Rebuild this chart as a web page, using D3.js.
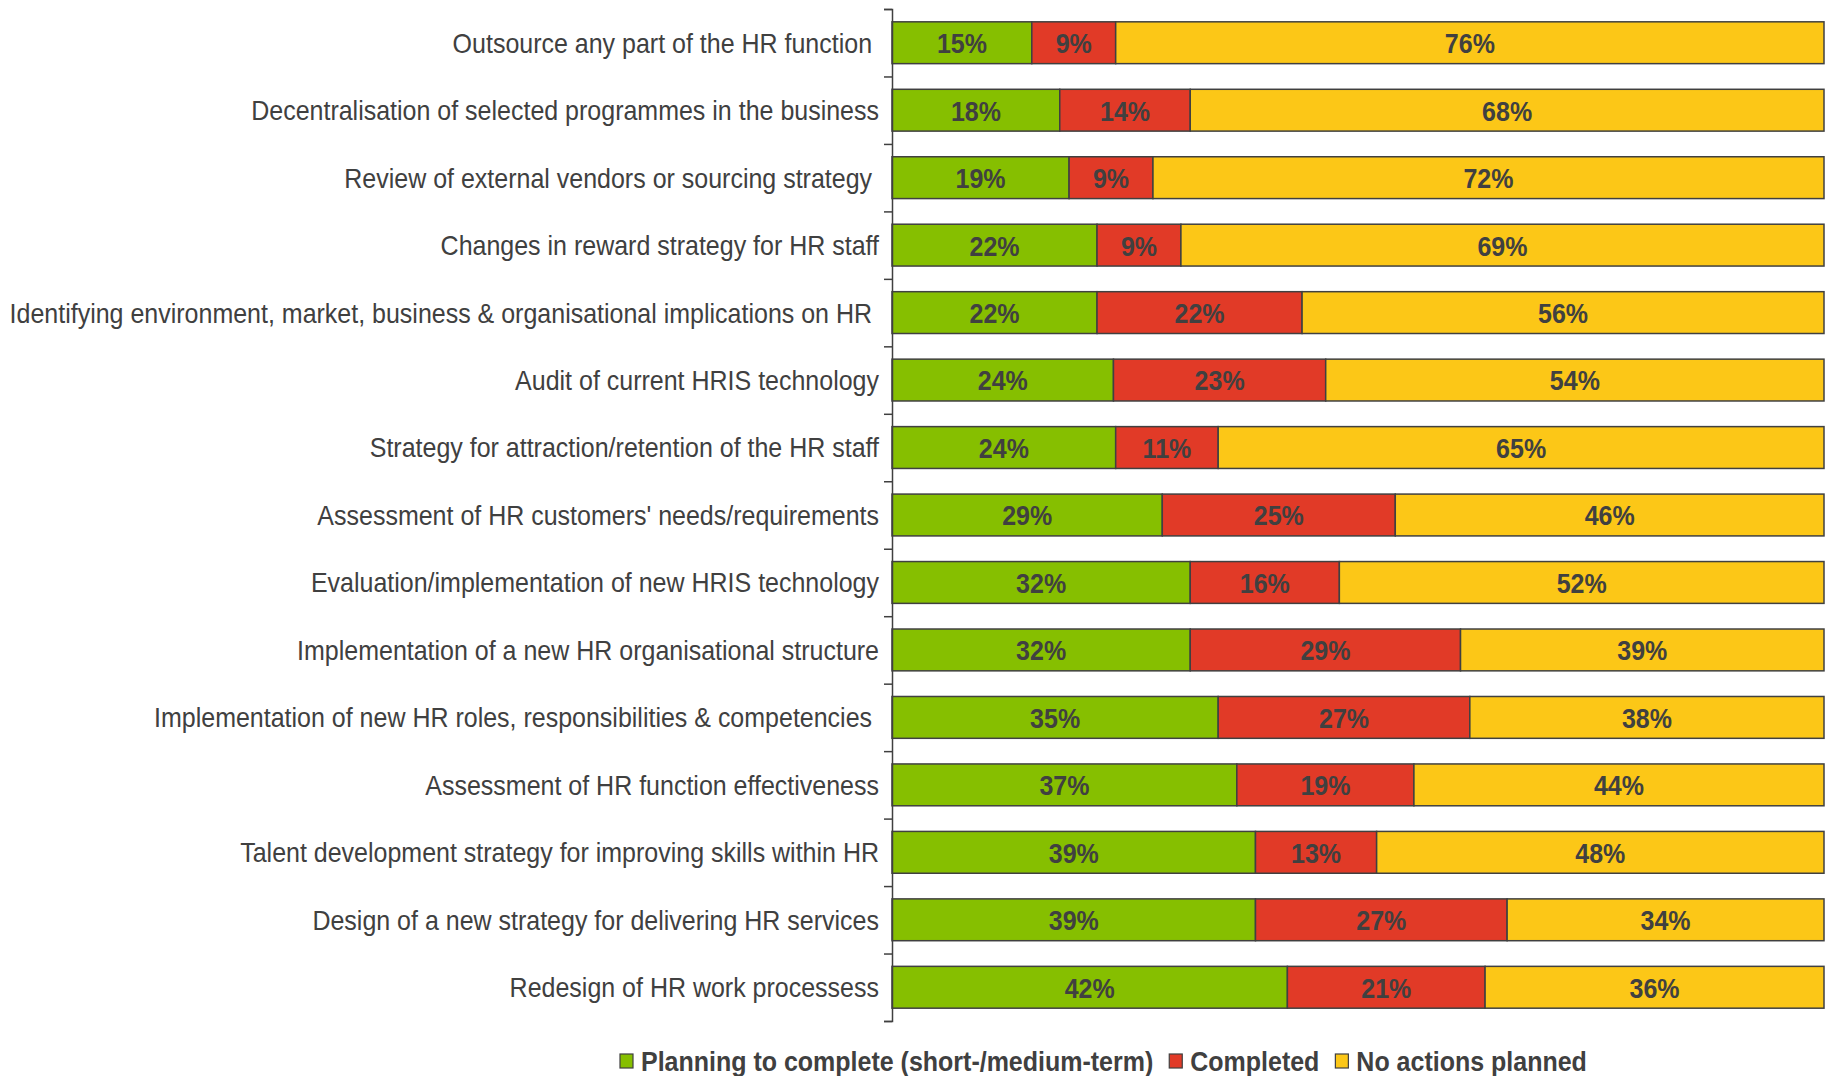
<!DOCTYPE html>
<html>
<head>
<meta charset="utf-8">
<script src="https://cdn.jsdelivr.net/npm/d3@7"></script>
<style>
  html, body { margin: 0; padding: 0; background: #fff; }
  svg { display: block; font-family: "Liberation Sans", Arial, sans-serif; }
  text { white-space: pre; }
</style>
</head>
<body>
<svg id="chart" width="1825" height="1076"></svg>
<script>
;(function(d3) {
    'use strict';

    // categories, top to bottom (some keep the trailing space of the source)
    var categories = [
        'Outsource any part of the HR function ',
        'Decentralisation of selected programmes in the business',
        'Review of external vendors or sourcing strategy ',
        'Changes in reward strategy for HR staff',
        'Identifying environment, market, business & organisational implications on HR ',
        'Audit of current HRIS technology',
        'Strategy for attraction/retention of the HR staff',
        "Assessment of HR customers' needs/requirements",
        'Evaluation/implementation of new HRIS technology',
        'Implementation of a new HR organisational structure',
        'Implementation of new HR roles, responsibilities & competencies ',
        'Assessment of HR function effectiveness',
        'Talent development strategy for improving skills within HR',
        'Design of a new strategy for delivering HR services',
        'Redesign of HR work processess'
    ];

    var planning  = [15, 18, 19, 22, 22, 24, 24, 29, 32, 32, 35, 37, 39, 39, 42];
    var completed = [ 9, 14,  9,  9, 22, 23, 11, 25, 16, 29, 27, 19, 13, 27, 21];
    var noAction  = [76, 68, 72, 69, 56, 54, 65, 46, 52, 39, 38, 44, 48, 34, 36];

    var seriesNames = ['Planning to complete (short-/medium-term)', 'Completed', 'No actions planned'];
    var seriesKeys = ['planning', 'completed', 'noAction'];
    var colors = ['#86bf00', '#e13a27', '#fcc717'];

    var rows = categories.map(function(c, i) {
        return { cat: c, planning: planning[i], completed: completed[i], noAction: noAction[i] };
    });

    var svg = d3.select('#chart');
    var left = 892, right = 1824, top = 9, bottom = 1021;
    var ink = '#404040';
    var stretch = 1.1; // the source text is a little taller than wide

    var x = d3.scaleLinear().domain([0, 1]).range([left, right]);
    var y = d3.scaleBand().domain(categories).range([top, bottom])
        .paddingInner(0.38).paddingOuter(0.19);

    var stack = d3.stack().keys(seriesKeys).offset(d3.stackOffsetExpand);
    var layers = stack(rows);

    var g = svg.selectAll('g.layer')
        .data(layers)
        .enter().append('g')
        .attr('class', 'layer')
        .attr('fill', function(d, i) { return colors[i]; });

    g.selectAll('rect')
        .data(function(d) { return d; })
        .enter().append('rect')
        .attr('x', function(d) { return x(d[0]); })
        .attr('y', function(d) { return y(d.data.cat); })
        .attr('width', function(d) { return x(d[1]) - x(d[0]); })
        .attr('height', y.bandwidth())
        .attr('stroke', ink)
        .attr('stroke-width', 1.5);

    // value labels
    layers.forEach(function(layer) {
        svg.append('g').selectAll('text')
            .data(layer)
            .enter().append('text')
            .attr('transform', function(d) {
                var cx = (x(d[0]) + x(d[1])) / 2;
                var cy = y(d.data.cat) + y.bandwidth() / 2 + 0.5;
                return 'translate(' + cx + ',' + cy + ') scale(1,' + stretch + ')';
            })
            .attr('dy', '0.36em')
            .attr('text-anchor', 'middle')
            .attr('font-size', 25)
            .attr('font-weight', 'bold')
            .attr('fill', ink)
            .text(function(d) { return d.data[layer.key] + '%'; });
    });

    // axis with ticks between categories
    var edges = d3.scaleLinear().domain([0, categories.length]).range([top, bottom]);
    var axis = svg.append('g')
        .attr('transform', 'translate(' + left + ',0)')
        .call(d3.axisLeft(edges).ticks(categories.length).tickSize(8).tickSizeOuter(8).tickFormat(''));
    axis.selectAll('path, line').attr('stroke', ink).attr('stroke-width', 1.5);

    // category labels
    svg.append('g').selectAll('text')
        .data(categories)
        .enter().append('text')
        .attr('transform', function(d) {
            return 'translate(879,' + (y(d) + y.bandwidth() / 2) + ') scale(1,' + stretch + ')';
        })
        .attr('dy', '0.36em')
        .attr('text-anchor', 'end')
        .attr('font-size', 25)
        .attr('fill', ink)
        .text(function(d) { return d; });

    // legend
    var legend = svg.append('g').attr('transform', 'translate(620,1061)');
    var lx = 0;
    seriesNames.forEach(function(name, i) {
        var item = legend.append('g').attr('transform', 'translate(' + lx + ',0)');
        item.append('rect')
            .attr('x', 0).attr('y', -7)
            .attr('width', 13).attr('height', 14)
            .attr('fill', colors[i])
            .attr('stroke', ink).attr('stroke-width', 1.2);
        var t = item.append('text')
            .attr('transform', 'translate(21,0) scale(1,' + stretch + ')')
            .attr('dy', '0.36em')
            .attr('font-size', 25)
            .attr('font-weight', 'bold')
            .attr('fill', ink)
            .text(name);
        lx += 21 + t.node().getComputedTextLength() + 16;
    });

}(window.d3));
</script>
</body>
</html>
